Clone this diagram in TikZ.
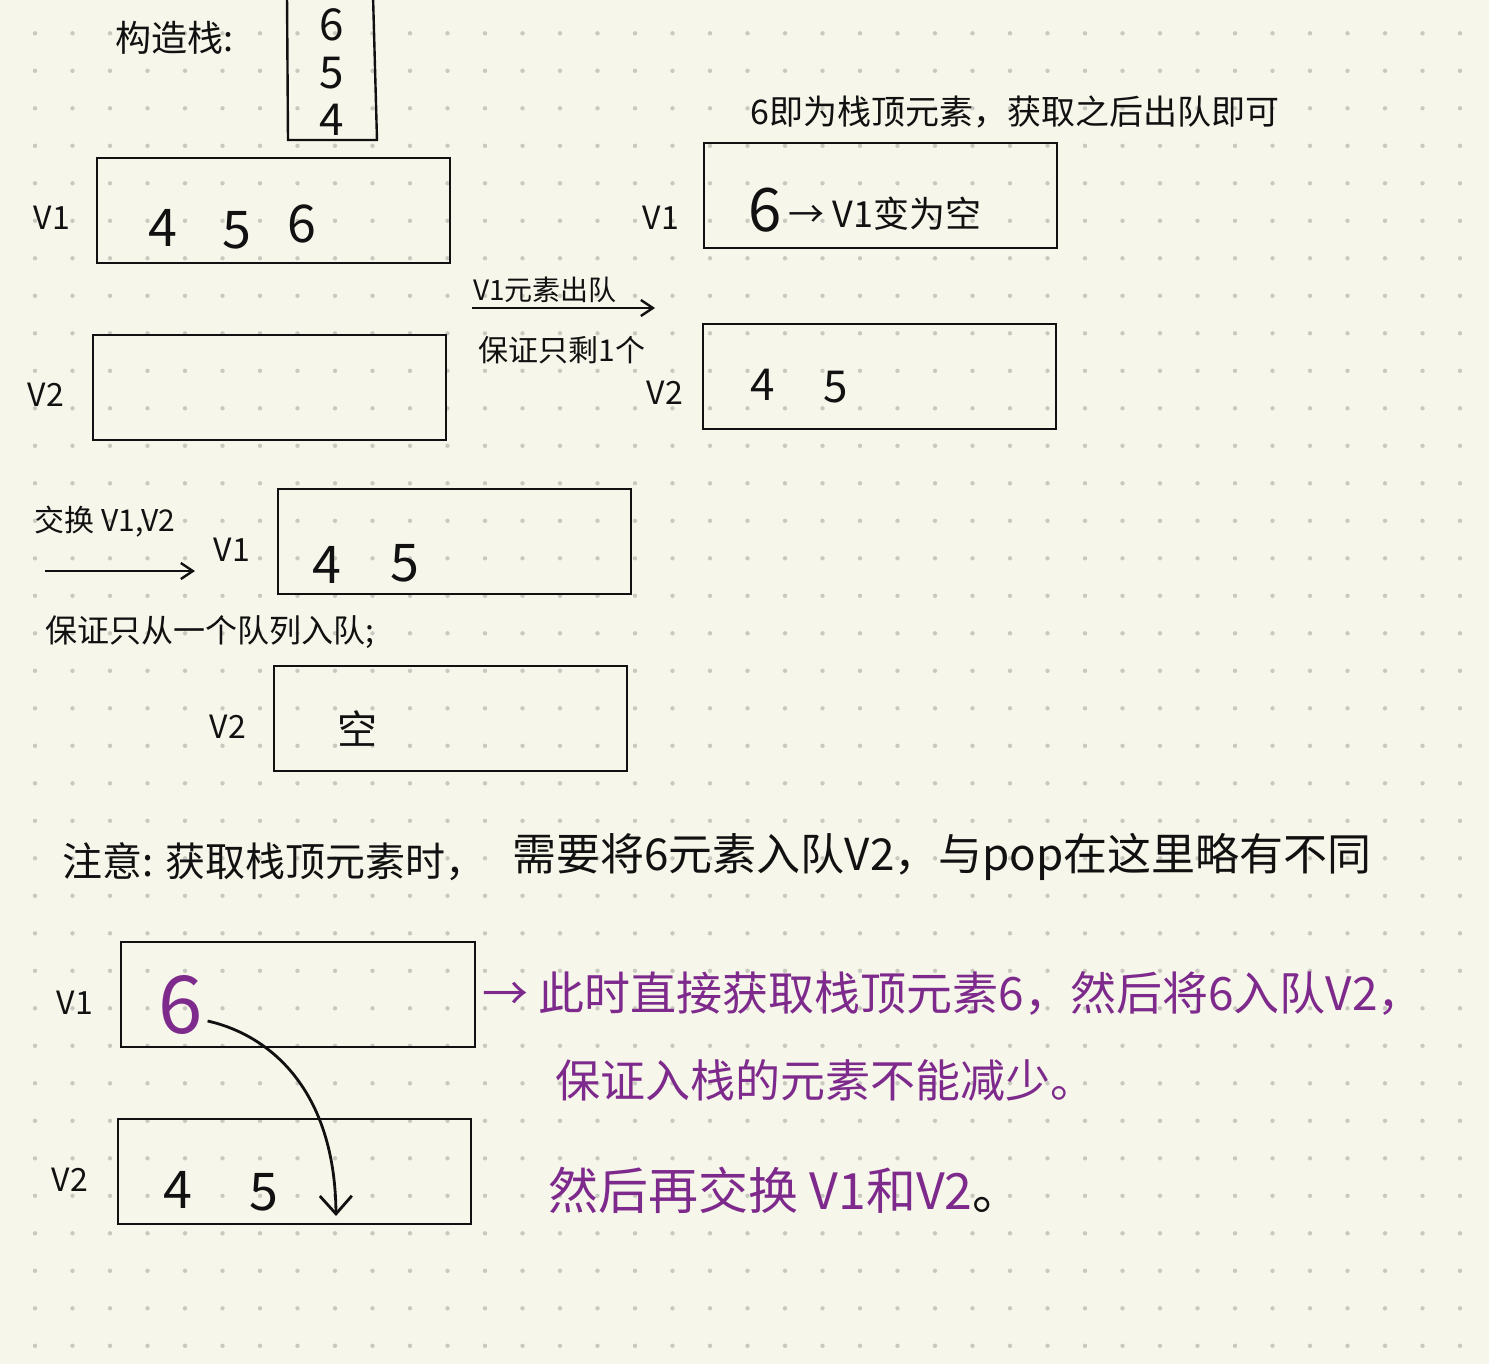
\documentclass[tikz,border=0pt]{standalone}
\usepackage{fontspec}
\setmainfont{Noto Sans CJK SC}
\usetikzlibrary{arrows.meta}
\definecolor{paper}{HTML}{F6F6EA}
\definecolor{dotc}{HTML}{C9C9C0}
\definecolor{ink}{HTML}{111111}
\definecolor{plum}{HTML}{7E2A8C}
\newcommand\hfs[1]{\fontsize{#1}{#1}\selectfont}
\tikzset{
  qbox/.style={draw=ink, line width=1.2pt},
  lbl/.style={inner sep=0pt, text=ink, anchor=center},
  vlab/.style={lbl, font=\hfs{16pt}},
  num/.style={lbl, font=\hfs{26pt}},
  note/.style={lbl, font=\hfs{16pt}},
  pnote/.style={lbl, text=plum, font=\hfs{22pt}},
  harrow/.style={draw=ink, line width=1.2pt, -{Straight Barb[length=6pt,width=8pt]}},
}
\begin{document}
\begin{tikzpicture}[x=0.5pt, y=-0.5pt]
\useasboundingbox (0,0) rectangle (1489,1364);
\fill[paper] (0,0) rectangle (1489,1364);
\foreach \i in {0,...,38} {
  \foreach \j in {0,...,35} {
    \fill[dotc] (35+37.5*\i, 33.3+37.5*\j) circle (2.2);
  }
}
% ---- stack ----
\node[lbl, font=\hfs{18pt}] (gz) at (175,38) {构造栈:};
\draw[qbox] (287,-5) -- (288,140) -- (377,140) -- (373,-5);
\node[lbl, font=\hfs{22pt}] (s6) at (332,25) {6};
\node[lbl, font=\hfs{22pt}] (s5) at (332,73) {5};
\node[lbl, font=\hfs{22pt}] (s4) at (332,120) {4};
% ---- left V1 / V2 ----
\draw[qbox] (97,158) rectangle (450,263);
\node[vlab] (la1) at (52,218) {V1};
\node[num] (a4) at (163,228) {4};
\node[num] (a5) at (237,230) {5};
\node[num] (a6) at (302,224) {6};
\draw[qbox] (93,335) rectangle (446,440);
\node[vlab] (la2) at (46,395) {V2};
% ---- middle arrow ----
\node[note, font=\hfs{14pt}] (chu) at (545,290) {V1元素出队};
\coordinate (ca) at (472,308);
\coordinate (cb) at (655,308);
\draw[harrow] (ca) -- (cb);
\node[note, font=\hfs{15pt}] (bz1) at (562,350) {保证只剩1个};
% ---- right V1 / V2 ----
\node[lbl, font=\hfs{17pt}] (top6) at (1015,112) {6即为栈顶元素，获取之后出队即可};
\draw[qbox] (704,143) rectangle (1057,248);
\node[vlab] (ra1) at (661,218) {V1};
\node[lbl, font=\hfs{30pt}] (r6) at (765,210) {6};
\node[lbl, font=\hfs{18pt}] (rtxt) at (885,214) {→ V1变为空};
\draw[qbox] (703,324) rectangle (1056,429);
\node[vlab] (ra2) at (665,393) {V2};
\node[lbl, font=\hfs{22pt}] (r4) at (763,385) {4};
\node[lbl, font=\hfs{22pt}] (r5) at (836,387) {5};
% ---- swap ----
\node[note, font=\hfs{15pt}] (jh) at (105,522) {交换 V1,V2};
\coordinate (sa) at (45,571);
\coordinate (sb) at (195,571);
\draw[harrow] (sa) -- (sb);
\node[vlab] (ma1) at (232,550) {V1};
\draw[qbox] (278,489) rectangle (631,594);
\node[num] (m4) at (327,565) {4};
\node[num] (m5) at (405,563) {5};
\node[note] (bz2) at (210,632) {保证只从一个队列入队;};
\draw[qbox] (274,666) rectangle (627,771);
\node[vlab] (ma2) at (228,727) {V2};
\node[lbl, font=\hfs{20pt}] (kong) at (357,728) {空};
% ---- note ----
\node[lbl, font=\hfs{20pt}, anchor=west] (zy) at (62,862) {注意: 获取栈顶元素时，};
\node[lbl, font=\hfs{22pt}, anchor=west] (zy2) at (512,857) {需要将6元素入队V2，与pop在这里略有不同};
% ---- bottom V1 / V2 ----
\draw[qbox] (121,942) rectangle (475,1047);
\node[vlab] (ba1) at (75,1003) {V1};
\node[lbl, text=plum, font=\hfs{40pt}] (b6) at (181,1005) {6};
\draw[qbox] (118,1119) rectangle (471,1224);
\node[vlab] (ba2) at (70,1180) {V2};
\node[num] (b4) at (178,1190) {4};
\node[num] (b5) at (264,1192) {5};
\coordinate (tgt) at (336,1216);
\draw[draw=ink, line width=1.4pt, -{Straight Barb[length=9pt,width=16pt]}]
  (b6.east) ++(4,16) .. controls (270,1035) and (335,1090) .. (tgt);
% ---- purple notes ----
\node[pnote, anchor=west, font=\hfs{23pt}] (p1) at (482,993) {→ 此时直接获取栈顶元素6，然后将6入队V2，};
\node[pnote, anchor=west, font=\hfs{22.5pt}] (p2) at (555,1080) {保证入栈的元素不能减少。};
\node[pnote, anchor=west, font=\hfs{25pt}] (p3) at (548,1190) {然后再交换 V1和V2\textcolor{ink}{。}};
\end{tikzpicture}
\end{document}
